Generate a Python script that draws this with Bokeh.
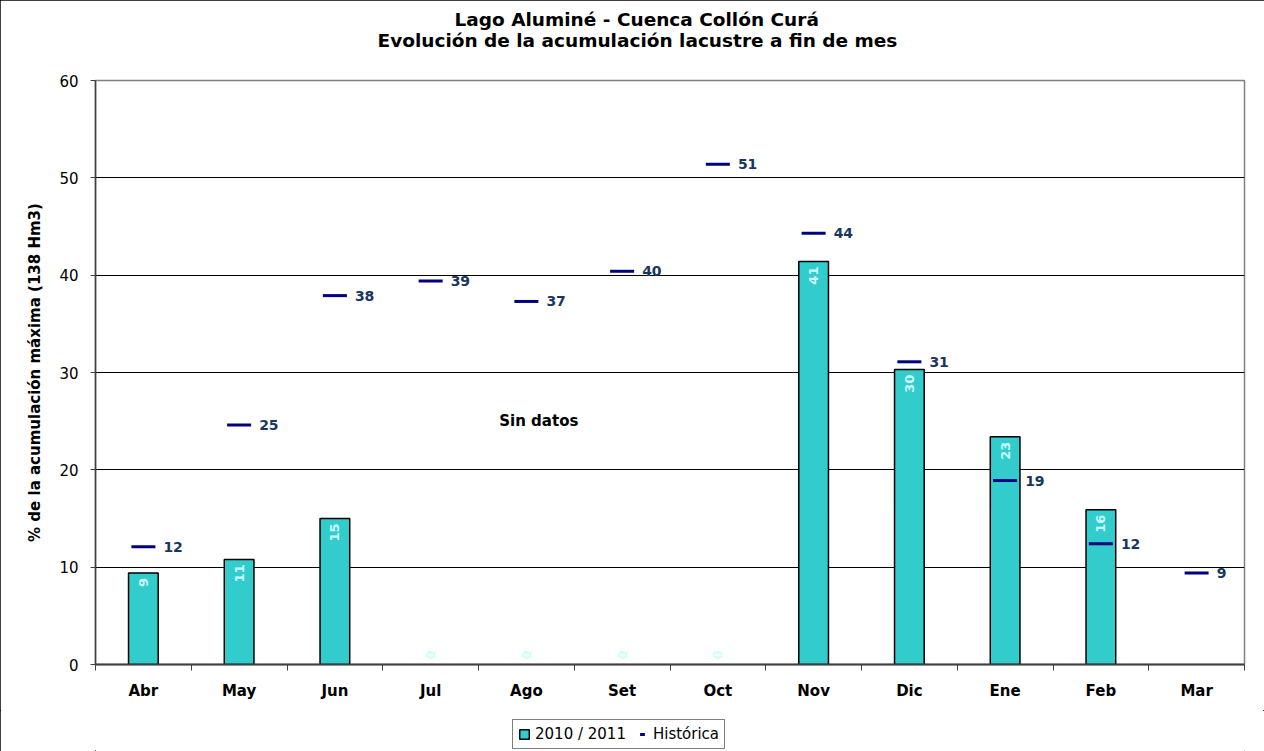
import numpy as np
from bokeh.plotting import figure
from bokeh.layouts import column
from bokeh.models import (ColumnDataSource, FixedTicker, Range1d, Title, Label,
                          Legend, LegendItem)
from bokeh.embed import file_html
from bokeh.resources import INLINE
from bokeh.core.properties import value

# ---------------- data ----------------
months = ["Abr", "May", "Jun", "Jul", "Ago", "Set", "Oct", "Nov", "Dic", "Ene", "Feb", "Mar"]
acum_2010_2011 = [9.4, 10.8, 15.0, 0.0, 0.0, 0.0, 0.0, 41.4, 30.3, 23.4, 15.9, np.nan]
historica = [12.1, 24.6, 37.9, 39.4, 37.3, 40.4, 51.4, 44.3, 31.1, 18.9, 12.4, 9.4]
y_ticks = [0, 10, 20, 30, 40, 50, 60]
title_1 = "Lago Aluminé - Cuenca Collón Curá"
title_2 = "Evolución de la acumulación lacustre a fin de mes"
y_label = "% de la acumulación máxima (138 Hm3)"
note_text = "Sin datos"
note_pos = (4.63, 25.0)
series_names = ["2010 / 2011", "Histórica"]

FONT_NAME = "DejaVu Sans"
FONT = value(FONT_NAME)
BAR_COLOR = "#33CCCC"
HIST_COLOR = "#000080"

xc = np.arange(len(months)) + 0.5
acum = np.array(acum_2010_2011, dtype=float)
hist = np.array(historica, dtype=float)

has_bar = ~np.isnan(acum) & (acum > 0)
zero_bar = ~np.isnan(acum) & (acum == 0)

bar_src = ColumnDataSource(dict(x=xc[has_bar], top=acum[has_bar],
                                lab=[f"{v:.0f}" for v in acum[has_bar]]))
zero_src = ColumnDataSource(dict(x=xc[zero_bar], y=acum[zero_bar],
                                 lab=[f"{v:.0f}" for v in acum[zero_bar]]))
hist_src = ColumnDataSource(dict(x=xc, y=hist, lab=[f"{v:.0f}" for v in hist]))

p = figure(width=1264, height=710, output_backend="svg", toolbar_location=None,
           x_range=Range1d(0, len(months)), y_range=Range1d(0, 60),
           min_border_left=95, min_border_right=20, min_border_top=80,
           min_border_bottom=46, title=None)

p.outline_line_color = "#808080"
p.outline_line_width = 1.5
p.background_fill_color = "white"
p.border_fill_color = "white"

# grid
p.xgrid.visible = False
p.ygrid.ticker = FixedTicker(ticks=y_ticks[1:-1])
p.ygrid.grid_line_color = "black"
p.ygrid.grid_line_width = 1

# y axis
p.yaxis.ticker = FixedTicker(ticks=y_ticks)
p.yaxis.axis_line_color = "#404040"
p.yaxis.axis_line_width = 1.5
p.yaxis.major_tick_out = 5
p.yaxis.major_tick_in = 0
p.yaxis.minor_tick_line_color = None
p.yaxis.major_tick_line_color = "#404040"
p.yaxis.major_label_text_font = FONT_NAME
p.yaxis.major_label_text_font_size = "15px"
p.yaxis.major_label_text_color = "black"
p.yaxis.major_label_standoff = 12
p.yaxis.axis_label = y_label
p.yaxis.axis_label_text_font = FONT_NAME
p.yaxis.axis_label_text_font_size = "15px"
p.yaxis.axis_label_text_font_style = "bold"
p.yaxis.axis_label_text_color = "black"
p.yaxis.axis_label_standoff = 12

# x axis: labels at centers, tick marks at category boundaries
p.xaxis.ticker = FixedTicker(ticks=list(xc), minor_ticks=list(range(len(months) + 1)))
p.xaxis.major_label_overrides = {float(x): m for x, m in zip(xc, months)}
p.xaxis.major_tick_out = 0
p.xaxis.major_tick_in = 0
p.xaxis.major_tick_line_color = None
p.xaxis.minor_tick_out = 6
p.xaxis.minor_tick_in = 0
p.xaxis.minor_tick_line_color = "#404040"
p.xaxis.axis_line_color = "#404040"
p.xaxis.axis_line_width = 2
p.xaxis.major_label_text_font = FONT_NAME
p.xaxis.major_label_text_font_size = "15px"
p.xaxis.major_label_text_font_style = "bold"
p.xaxis.major_label_text_color = "black"
p.xaxis.major_label_standoff = 11

# bars
bars = p.vbar(x="x", top="top", width=0.31, bottom=0, source=bar_src,
              fill_color=BAR_COLOR, line_color="black", line_width=1.5)

# historical dashes
dashes = p.scatter(x="x", y="y", source=hist_src, marker="dash", size=24,
                   line_color=HIST_COLOR, line_width=3)

# bar labels (rotated, inside end)
p.text(x="x", y="top", text="lab", source=bar_src, angle=np.pi / 2,
       text_align="right", text_baseline="middle", y_offset=5,
       text_color="#CCFFFF", text_font=FONT, text_font_style="bold",
       text_font_size="13px")
p.text(x="x", y="y", text="lab", source=zero_src, angle=np.pi / 2,
       text_align="left", text_baseline="middle", y_offset=-5,
       text_color="#CCFFFF", text_font=FONT, text_font_style="bold",
       text_font_size="13px")

# historical labels
p.text(x="x", y="y", text="lab", source=hist_src, x_offset=20,
       text_align="left", text_baseline="middle",
       text_color="#17375E", text_font=FONT, text_font_style="bold",
       text_font_size="14px")

p.add_layout(Label(x=note_pos[0], y=note_pos[1], text=note_text,
                   text_align="center", text_baseline="middle",
                   text_font=FONT_NAME, text_font_style="bold",
                   text_font_size="15px", text_color="black"))

# titles: a blank spacer nearest the frame, then line 2, then line 1
p.add_layout(Title(text=" ", align="left", text_font=FONT_NAME,
                   text_font_size="18.5px", standoff=7), "above")
p.add_layout(Title(text=title_2, align="left", offset=282,
                   text_font=FONT_NAME, text_font_size="18.5px",
                   text_font_style="bold", text_color="black",
                   standoff=0), "above")
p.add_layout(Title(text=title_1, align="left", offset=359,
                   text_font=FONT_NAME, text_font_size="18.5px",
                   text_font_style="bold", text_color="black",
                   standoff=-5), "above")

# ---------------- legend strip below the chart ----------------
lg = figure(width=1264, height=41, output_backend="svg", toolbar_location=None,
            x_axis_type=None, y_axis_type=None,
            x_range=Range1d(100, 101), y_range=Range1d(100, 101),
            min_border_left=0, min_border_right=0, min_border_top=0,
            min_border_bottom=0, title=None)
lg.outline_line_color = None
lg.background_fill_color = "white"
lg.border_fill_color = "white"
lg.xgrid.visible = False
lg.ygrid.visible = False
# same series drawn again (outside this strip's visible range) only to feed the legend
lg_bar = lg.vbar(x="x", top="top", width=0.31, bottom=0, source=bar_src,
                 fill_color=BAR_COLOR, line_color="black", line_width=1.5)
lg_dash = lg.scatter(x="x", y="y", source=hist_src, marker="dash", size=14,
                     line_color=HIST_COLOR, line_width=3)
legend = Legend(items=[LegendItem(label=series_names[0], renderers=[lg_bar]),
                       LegendItem(label=series_names[1], renderers=[lg_dash])],
                orientation="horizontal", location=(417, 2),
                border_line_color="black", border_line_width=1,
                label_text_font=FONT_NAME, label_text_font_size="15px",
                label_text_color="black", glyph_width=12, glyph_height=12,
                padding=5, spacing=10, margin=0, label_standoff=5,
                background_fill_color="white")
lg.add_layout(legend)

layout = column(p, lg, spacing=0)
layout.styles = {"outline": "1px solid black", "outline-offset": "-1px"}

open("out.html", "w").write(file_html(layout, INLINE))
